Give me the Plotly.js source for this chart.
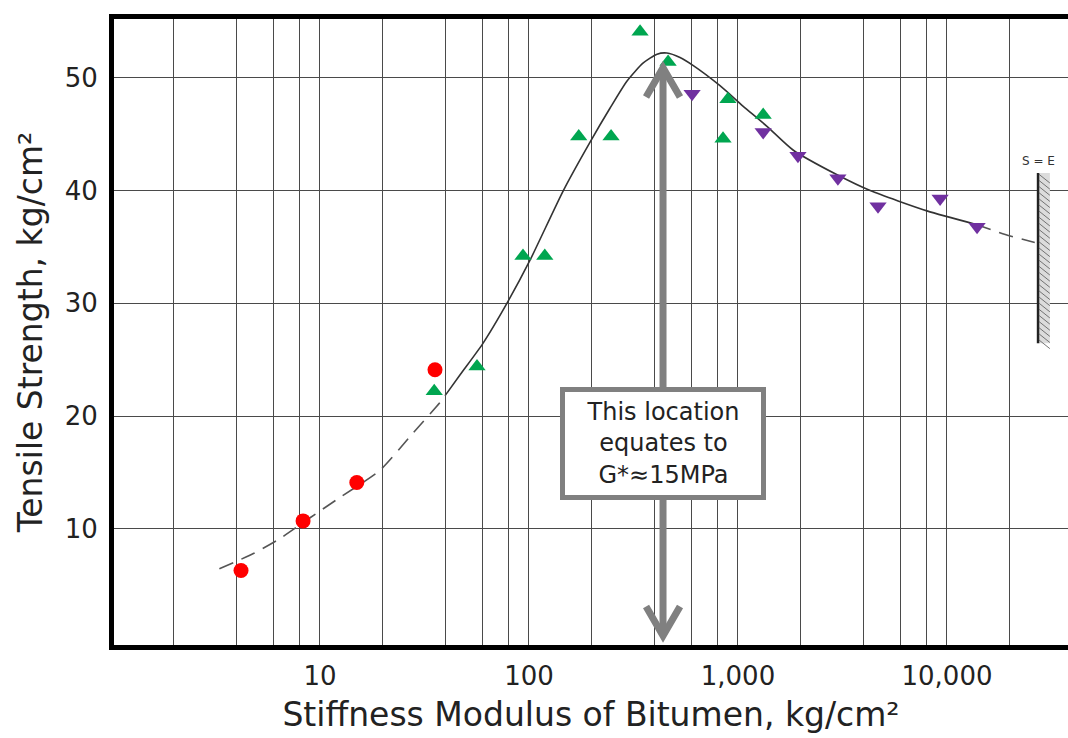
<!DOCTYPE html>
<html>
<head>
<meta charset="utf-8">
<script src="https://cdn.plot.ly/plotly-3.0.1.min.js"></script>
<style>
  html, body { margin: 0; padding: 0; background: #fff; }
  #chart { width: 1068px; height: 738px; }
</style>
</head>
<body>
<div id="chart"></div>
<script>
// ---- data ----
const curveDashLowX = [3.3, 4.8, 6.4, 9.0, 12.5, 19.4, 27.9, 37.5, 40];
const curveDashLowY = [6.45, 7.8, 9.1, 11.0, 12.8, 15.2, 18.5, 21.2, 21.9];
const curveSolidX = [40, 47, 60, 79, 101, 146, 196, 244, 294, 351, 410, 457, 528, 609, 820, 1056, 1376, 1834, 2980, 4290, 8020, 13800];
const curveSolidY = [21.9, 23.7, 26.4, 30.1, 33.8, 40.0, 44.3, 47.3, 49.7, 51.3, 52.1, 52.2, 51.8, 51.1, 49.3, 47.5, 45.7, 43.6, 41.4, 40.0, 38.2, 37.0];
const curveDashHighX = [13800, 19000, 26300];
const curveDashHighY = [37.0, 36.1, 35.4];

const redX = [4.19, 8.3, 15.0, 35.5];
const redY = [6.3, 10.7, 14.1, 24.1];

const greenX = [35.2, 56.4, 93.6, 119, 173, 247, 340, 463, 895, 1320, 848];
const greenY = [22.2, 24.4, 34.2, 34.2, 44.8, 44.8, 54.1, 51.4, 48.1, 46.7, 44.6];

const purpleX = [603, 1320, 1936, 3006, 4677, 9268, 13930];
const purpleY = [48.6, 45.2, 43.1, 41.1, 38.6, 39.3, 36.8];

const xMinorGridVals = [2, 4, 6, 8, 20, 40, 60, 80, 200, 400, 600, 800, 2000, 4000, 6000, 8000, 20000];
const xLabelVals = [10, 100, 1000, 10000];
const xLabelText = ['10', '100', '1,000', '10,000'];
const yTickVals = [10, 20, 30, 40, 50];

const xTitle = 'Stiffness Modulus of Bitumen, kg/cm²';
const yTitle = 'Tensile Strength, kg/cm²';
const boxText = 'This location<br>equates to<br>G*≈15MPa';
const seLabel = 'S = E';

// ---- build ----
const curveLine = { color: '#333333', width: 1.6 };
const dashLine = { color: '#555555', width: 1.6, dash: '15px,9px', shape: 'spline', smoothing: 0.6 };

const traces = [
  { x: curveDashLowX, y: curveDashLowY, mode: 'lines', type: 'scatter', line: dashLine, hoverinfo: 'skip' },
  { x: curveSolidX, y: curveSolidY, mode: 'lines', type: 'scatter',
    line: Object.assign({}, curveLine, { shape: 'spline', smoothing: 0.6 }), hoverinfo: 'skip' },
  { x: curveDashHighX, y: curveDashHighY, mode: 'lines', type: 'scatter', line: dashLine, hoverinfo: 'skip' },
  { x: redX, y: redY, mode: 'markers', type: 'scatter',
    marker: { symbol: 'circle', size: 15, color: '#ff0000' } },
  { x: greenX, y: greenY, mode: 'markers', type: 'scatter',
    marker: { symbol: 'triangle-up', size: 15, color: '#00a650' } },
  { x: purpleX, y: purpleY, mode: 'markers', type: 'scatter',
    marker: { symbol: 'triangle-down', size: 15, color: '#7030a0' } }
];

// decoration positions (paper / y refs)
const arrowXp = 0.5755;
const headHalfW = 0.0178;
const arrowColor = '#808080';
const shapes = [
  { type: 'line', xref: 'paper', yref: 'y', x0: arrowXp, x1: arrowXp, y0: 0.6, y1: 50.6,
    line: { color: arrowColor, width: 7 } },
  { type: 'path', xref: 'paper', yref: 'y',
    path: `M ${arrowXp - headHalfW},48.3 L ${arrowXp},50.9 L ${arrowXp + headHalfW},48.3`,
    line: { color: arrowColor, width: 7 } },
  { type: 'path', xref: 'paper', yref: 'y',
    path: `M ${arrowXp - headHalfW},3.1 L ${arrowXp},0.5 L ${arrowXp + headHalfW},3.1`,
    line: { color: arrowColor, width: 7 } },
  // S=E hatched bar
  { type: 'rect', xref: 'paper', yref: 'paper', x0: 0.9695, x1: 0.981, y0: 0.482, y1: 0.754,
    fillcolor: '#dcdcdc', line: { width: 0 } },
  { type: 'line', xref: 'paper', yref: 'paper', x0: 0.9686, x1: 0.9686, y0: 0.482, y1: 0.754,
    line: { color: '#222', width: 2.5 } }
];
let hatch = '';
for (let k = 0; k < 28; k++) {
  const yTop = 0.752 - k * 0.0098;
  hatch += `M 0.9695,${yTop.toFixed(4)} L 0.981,${(yTop - 0.014).toFixed(4)} `;
}
shapes.push({ type: 'path', xref: 'paper', yref: 'paper', path: hatch,
  line: { color: '#666', width: 0.9 } });

const annotations = [
  { xref: 'paper', yref: 'y', x: arrowXp, y: 17.6, text: boxText, showarrow: false,
    xanchor: 'center', yanchor: 'middle',
    font: { family: 'DejaVu Sans', size: 24, color: '#222' },
    bgcolor: '#ffffff', bordercolor: arrowColor, borderwidth: 5, borderpad: 1,
    width: 194, height: 101, align: 'center', valign: 'middle' },
  { xref: 'paper', yref: 'paper', x: 0.9695, y: 0.773, text: seLabel, showarrow: false,
    xanchor: 'center', yanchor: 'middle',
    font: { family: 'DejaVu Sans', size: 12, color: '#333' } }
];

const gridColor = '#4a4a4a';
const layout = {
  width: 1068, height: 738,
  margin: { l: 114, r: 0, t: 19, b: 93, pad: 0 },
  paper_bgcolor: '#ffffff', plot_bgcolor: '#ffffff',
  showlegend: false,
  font: { family: 'DejaVu Sans', color: '#222' },
  xaxis: {
    type: 'log', range: [0.0144, 4.579],
    tickmode: 'array', tickvals: xLabelVals, ticktext: xLabelText,
    ticks: '', showgrid: true, gridcolor: gridColor, gridwidth: 1,
    minor: { tickmode: 'array', tickvals: xMinorGridVals, showgrid: true,
             gridcolor: gridColor, gridwidth: 1, ticks: '' },
    showline: true, linecolor: '#000', linewidth: 5, mirror: true,
    zeroline: false, tickfont: { size: 26, color: '#222' },
    ticklabelstandoff: 4,
    title: { text: xTitle, font: { size: 33, color: '#222' }, standoff: 14 }
  },
  yaxis: {
    range: [-0.31, 55.22],
    tickmode: 'array', tickvals: yTickVals,
    ticks: '', showgrid: true, gridcolor: gridColor, gridwidth: 1,
    showline: true, linecolor: '#000', linewidth: 5, mirror: false,
    zeroline: false, tickfont: { size: 26, color: '#222' },
    ticklabelstandoff: 6,
    title: { text: yTitle, font: { size: 33, color: '#222' }, standoff: 14 }
  },
  shapes: shapes,
  annotations: annotations
};

Plotly.newPlot('chart', traces, layout, { displayModeBar: false, staticPlot: true });
</script>
</body>
</html>
